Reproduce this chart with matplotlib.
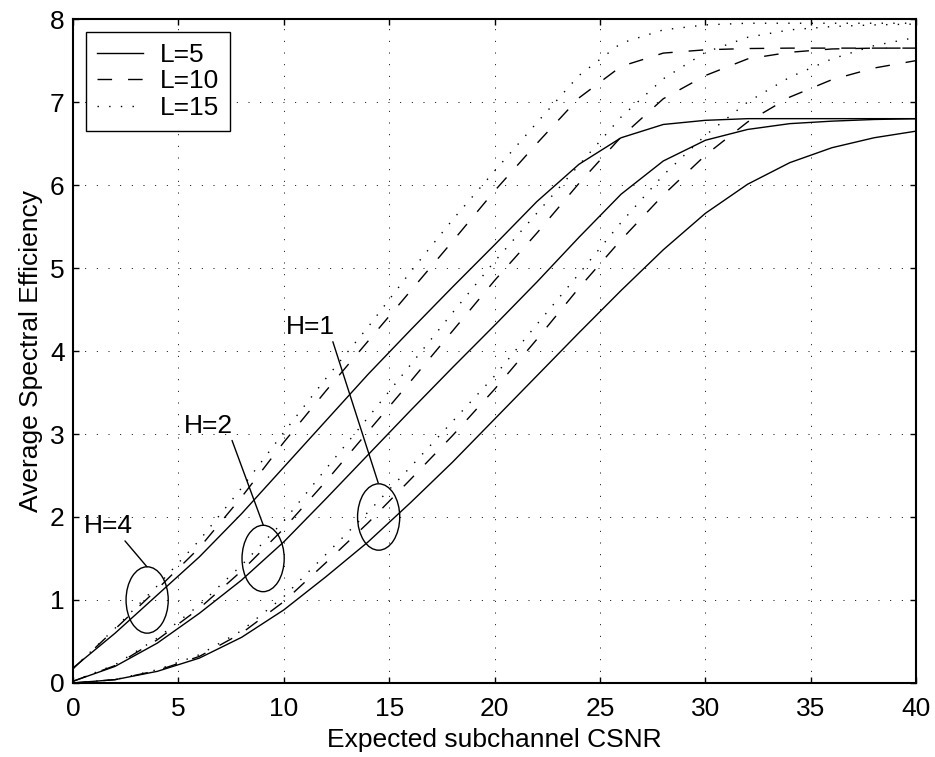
import matplotlib
matplotlib.use("Agg")
import matplotlib.pyplot as plt
from matplotlib.patches import Ellipse

plt.rcParams['font.family'] = ['Liberation Sans', 'DejaVu Sans']

# expected subchannel CSNR grid
csnr = [0, 2, 4, 6, 8, 10, 12, 14, 16, 18, 20, 22, 24, 26, 28, 30, 32, 34, 36, 38, 40]

# H=4
h4_l5 = [0.18, 0.60, 1.06, 1.52, 2.04, 2.60, 3.16, 3.72, 4.25, 4.77, 5.28, 5.80, 6.25, 6.57, 6.73, 6.78, 6.80, 6.80, 6.80, 6.80, 6.80]
h4_l10 = [0.17, 0.65, 1.13, 1.63, 2.24, 2.90, 3.52, 4.12, 4.72, 5.32, 5.93, 6.50, 7.05, 7.43, 7.59, 7.63, 7.645, 7.65, 7.65, 7.65, 7.65]
h4_l15 = [0.17, 0.66, 1.17, 1.72, 2.35, 3.02, 3.67, 4.29, 4.95, 5.58, 6.17, 6.75, 7.32, 7.71, 7.87, 7.93, 7.95, 7.95, 7.95, 7.95, 7.95]
# H=2
h2_l5 = [0.02, 0.20, 0.48, 0.84, 1.24, 1.70, 2.22, 2.75, 3.28, 3.80, 4.31, 4.83, 5.37, 5.89, 6.29, 6.54, 6.67, 6.74, 6.77, 6.79, 6.80]
h2_l10 = [0.02, 0.21, 0.52, 0.90, 1.35, 1.86, 2.43, 3.03, 3.63, 4.24, 4.85, 5.42, 6.02, 6.58, 7.04, 7.32, 7.52, 7.60, 7.64, 7.65, 7.65]
h2_l15 = [0.02, 0.22, 0.54, 0.94, 1.42, 1.95, 2.58, 3.20, 3.83, 4.46, 5.08, 5.66, 6.24, 6.82, 7.28, 7.60, 7.78, 7.87, 7.91, 7.93, 7.94]
# H=1
h1_l5 = [0.00, 0.04, 0.14, 0.30, 0.55, 0.88, 1.28, 1.70, 2.17, 2.66, 3.18, 3.70, 4.22, 4.73, 5.22, 5.66, 6.01, 6.27, 6.45, 6.57, 6.65]
h1_l10 = [0.00, 0.04, 0.15, 0.32, 0.60, 0.98, 1.45, 1.93, 2.45, 2.98, 3.54, 4.14, 4.76, 5.34, 5.88, 6.36, 6.76, 7.06, 7.27, 7.41, 7.50]
h1_l15 = [0.00, 0.04, 0.16, 0.34, 0.63, 1.04, 1.55, 2.06, 2.60, 3.15, 3.70, 4.32, 4.93, 5.55, 6.12, 6.60, 7.00, 7.30, 7.52, 7.68, 7.78]

labels = ['L=5', 'L=10', 'L=15']

fig = plt.figure(figsize=(9.35, 7.57), dpi=100)
ax = fig.add_axes([0.078, 0.0978, 0.902, 0.877])

dash = (10.5, 11.5)
dots = (1, 7.4)
lw = 1.0

groups = [(h4_l5, h4_l10, h4_l15), (h2_l5, h2_l10, h2_l15), (h1_l5, h1_l10, h1_l15)]
handles = []
for i, (s5, s10, s15) in enumerate(groups):
    a, = ax.plot(csnr, s5, color='k', lw=lw, ls='-')
    b, = ax.plot(csnr, s10, color='k', lw=lw, ls=(0, dash))
    c, = ax.plot(csnr, s15, color='k', lw=lw, ls=(0, dots))
    if i == 0:
        handles = [a, b, c]

# ellipses marking each H group
for cx, cy in [(3.52, 1.0), (9.02, 1.5), (14.5, 2.0)]:
    ax.add_patch(Ellipse((cx, cy), 2.0, 0.8, fill=False, ec='k', lw=1.0))

ax.annotate('H=4', xy=(3.51, 1.40), xytext=(1.66, 1.89), fontsize=19,
            ha='center', va='center',
            arrowprops=dict(arrowstyle='-', color='k', lw=1.0, shrinkA=0, shrinkB=0,
                            relpos=(0.8, 0.0)))
ax.annotate('H=2', xy=(9.03, 1.90), xytext=(6.45, 3.10), fontsize=19,
            ha='center', va='center',
            arrowprops=dict(arrowstyle='-', color='k', lw=1.0, shrinkA=0, shrinkB=0,
                            relpos=(0.95, 0.0)))
ax.annotate('H=1', xy=(14.48, 2.41), xytext=(11.24, 4.29), fontsize=19,
            ha='center', va='center',
            arrowprops=dict(arrowstyle='-', color='k', lw=1.0, shrinkA=0, shrinkB=0,
                            relpos=(0.95, 0.0)))

ax.set_xlim(0, 40)
ax.set_ylim(0, 8)
ax.set_xticks(range(0, 41, 5))
ax.set_yticks(range(0, 9))
ax.grid(True, color='k', lw=0.7, ls=(0, (1, 11)))
ax.tick_params(direction='in', length=4.5, width=1.0, top=True, right=True,
               labelsize=19)
ax.tick_params(axis='x', pad=10)
ax.tick_params(axis='y', pad=6)
for sp in ax.spines.values():
    sp.set_linewidth(1.5)

ax.set_xlabel('Expected subchannel CSNR', fontsize=19, labelpad=5)
ax.set_ylabel('Average Spectral Efficiency', fontsize=19, labelpad=5)

leg = ax.legend(handles, labels, loc='upper left', fontsize=19, fancybox=False,
                framealpha=1, edgecolor='k', handlelength=1.75, handletextpad=0.65,
                labelspacing=0.1, borderpad=0.4)
leg.get_frame().set_linewidth(1.0)

fig.savefig('out.png', dpi=100)
